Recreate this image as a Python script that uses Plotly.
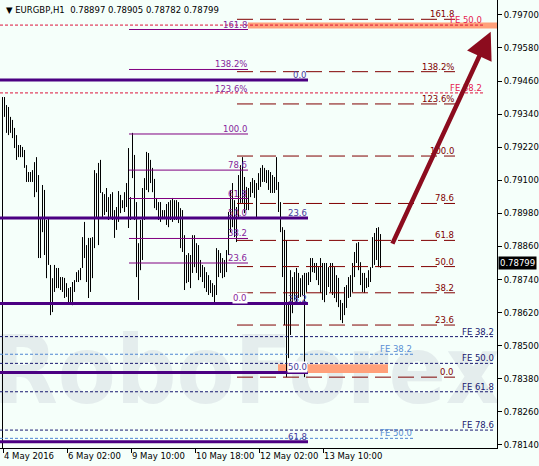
import plotly.graph_objects as go

# ---------------- data ----------------
highs = [0.79402, 0.79373, 0.79366, 0.79330, 0.79319, 0.79290, 0.79264, 0.79228, 0.79228, 0.79221,
         0.79210, 0.79155, 0.79130, 0.79130, 0.79137, 0.79166, 0.79184, 0.79119, 0.78963, 0.79083,
         0.79065, 0.78956, 0.78963, 0.78793, 0.78745, 0.78793, 0.78782, 0.78782, 0.78749, 0.78749,
         0.78746, 0.78727, 0.78709, 0.78713, 0.78731, 0.78738, 0.78767, 0.78774, 0.78782, 0.78894,
         0.78949, 0.78865, 0.78891, 0.78891, 0.78894, 0.79137, 0.79126, 0.79163, 0.79174,
         0.79057, 0.79050, 0.79072, 0.79039, 0.79050, 0.79057, 0.78992, 0.79003, 0.79061, 0.79047,
         0.79028, 0.79057, 0.79090, 0.79217, 0.79039, 0.79272, 0.79192, 0.79021, 0.78872, 0.78956,
         0.79072, 0.79108, 0.79203, 0.79199, 0.79174, 0.79145, 0.79105, 0.79036, 0.79021, 0.79021,
         0.78992, 0.78992, 0.79014, 0.79021, 0.79028, 0.79036, 0.79028, 0.79028, 0.79021, 0.78999,
         0.78992, 0.78901, 0.78829, 0.78836, 0.78829, 0.78901, 0.78901,
         0.78872, 0.78865, 0.78811, 0.78793, 0.78785, 0.78767, 0.78756, 0.78738, 0.78727, 0.78720,
         0.78854, 0.78847, 0.78836, 0.78818, 0.78811, 0.78847, 0.78985, 0.79065, 0.79090, 0.79028,
         0.79003, 0.79119, 0.79155, 0.79184, 0.79112, 0.79076, 0.79072, 0.79094, 0.79108, 0.79101,
         0.79090, 0.79126, 0.79145, 0.79155, 0.79145, 0.79137, 0.79137, 0.79130, 0.79119, 0.79112,
         0.79184, 0.79094, 0.79021, 0.78930, 0.78920, 0.78883, 0.78655, 0.78774,
         0.78749, 0.78767, 0.78782, 0.78764, 0.78745, 0.78756, 0.78764, 0.78764, 0.78767, 0.78818,
         0.78818, 0.78800, 0.78800, 0.78785, 0.78818, 0.78800, 0.78800, 0.78800, 0.78785, 0.78800,
         0.78800, 0.78785, 0.78756, 0.78746, 0.78666, 0.78655, 0.78713, 0.78720, 0.78749, 0.78756,
         0.78800, 0.78840, 0.78872, 0.78876, 0.78803, 0.78764, 0.78764, 0.78746, 0.78774, 0.78785,
         0.78894, 0.78909, 0.78927, 0.78930, 0.78905]
lows = [0.79330, 0.79272, 0.79264, 0.79272, 0.79253, 0.79217, 0.79174, 0.79184, 0.79184, 0.79184,
        0.79145, 0.79094, 0.79094, 0.79094, 0.79094, 0.79039, 0.79057, 0.78818, 0.78818, 0.78912,
        0.78829, 0.78745, 0.78793, 0.78611, 0.78622, 0.78695, 0.78709, 0.78709, 0.78702, 0.78695,
        0.78673, 0.78677, 0.78658, 0.78658, 0.78647, 0.78695, 0.78731, 0.78731, 0.78738, 0.78782,
        0.78818, 0.78731, 0.78673, 0.78695, 0.78745, 0.78854, 0.78963, 0.78865, 0.79054,
        0.78967, 0.78974, 0.78985, 0.78956, 0.78967, 0.78956, 0.78891, 0.78920, 0.78949, 0.78981,
        0.78999, 0.78985, 0.79003, 0.78927, 0.78956, 0.79108, 0.78956, 0.78749, 0.78666, 0.78774,
        0.78811, 0.78956, 0.79065, 0.79057, 0.79090, 0.79057, 0.78999, 0.78992, 0.78956, 0.78949,
        0.78959, 0.78959, 0.78938, 0.78930, 0.78956, 0.78949, 0.78956, 0.78956, 0.78945, 0.78854,
        0.78840, 0.78702, 0.78727, 0.78731, 0.78709, 0.78764, 0.78785,
        0.78764, 0.78738, 0.78749, 0.78731, 0.78709, 0.78695, 0.78684, 0.78691, 0.78677, 0.78655,
        0.78684, 0.78749, 0.78764, 0.78745, 0.78749, 0.78767, 0.78829, 0.78912, 0.78930, 0.78894,
        0.78876, 0.78967, 0.79018, 0.79018, 0.78981, 0.78992, 0.78992, 0.79039, 0.79054, 0.79036,
        0.78967, 0.79065, 0.79076, 0.79094, 0.79094, 0.79090, 0.79065, 0.79054, 0.79054, 0.79054,
        0.79065, 0.78985, 0.78912, 0.78749, 0.78575, 0.78386, 0.78455, 0.78539,
        0.78618, 0.78666, 0.78655, 0.78673, 0.78677, 0.78684, 0.78386, 0.78695, 0.78720, 0.78731,
        0.78767, 0.78764, 0.78738, 0.78720, 0.78691, 0.78666, 0.78658, 0.78684, 0.78713, 0.78695,
        0.78684, 0.78673, 0.78658, 0.78640, 0.78593, 0.78582, 0.78611, 0.78637, 0.78673, 0.78677,
        0.78695, 0.78749, 0.78800, 0.78774, 0.78720, 0.78695, 0.78691, 0.78709, 0.78713, 0.78731,
        0.78782, 0.78793, 0.78811, 0.78785, 0.78782]

last_bar_ohlc = ["0.78897", "0.78905", "0.78782", "0.78799"]
last_close = 0.78799
symbol = "EURGBP,H1"

x_tick_pos = [-0.75, 31.25, 63.25, 95.25, 127.25, 159.25]
x_tick_text = ["4 May 2016", "6 May 02:00", "9 May 10:00", "10 May 18:00", "12 May 02:00", "13 May 10:00"]
y_ticks = [0.79700, 0.79580, 0.79460, 0.79340, 0.79220, 0.79100, 0.78980,
           0.78860, 0.78740, 0.78620, 0.78500, 0.78380, 0.78260, 0.78140]

# Fibonacci retracement (purple, left)
purple_txt = ["0.0", "23.6", "38.2", "50.0", "61.8", "78.6", "100.0", "123.6%", "138.2%", "161.8"]
purple_px = [0.78655, 0.78800, 0.78889, 0.78962, 0.79034, 0.79137, 0.79268, 0.79413, 0.79502, 0.79647]
purple_span = [62.25, 121.75]

# Fibonacci retracement (maroon, right)
maroon_txt = ["0.0", "23.6", "38.2", "50.0", "61.8", "78.6", "100.0", "123.6%", "138.2%", "161.8"]
maroon_px = [0.78386, 0.78575, 0.78692, 0.78787, 0.78882, 0.79016, 0.79188, 0.79377, 0.79494, 0.79684]
maroon_span = [116.25, 225.25]

# Fibonacci retracement (indigo, thick)
indigo_txt = ["0.0", "23.6", "38.2", "50.0", "61.8"]
indigo_px = [0.79464, 0.78963, 0.78653, 0.78403, 0.78152]
indigo_span = [-2.25, 151.75]

# Fibonacci expansions
fe_red_txt = ["FE 50.0", "FE 38.2"]
fe_red_px = [0.79663, 0.79417]
fe_red_end = 239.25
fe_navy_txt = ["FE 38.2", "FE 50.0", "FE 61.8", "FE 78.6"]
fe_navy_px = [0.78533, 0.78436, 0.78333, 0.78194]
fe_navy_end = 245.25
fe_blue_txt = ["FE 38.2", "FE 50.0"]
fe_blue_px = [0.78469, 0.78164]
fe_blue_end = 204.25

# target zones
zone_top_x = [121.75, 246.25]
zone_top_y = [0.79651, 0.79672]
zone_bot_x = [136.75, 191.75]
zone_bot_y = [0.78401, 0.78433]

# forecast arrow (bar index, price)
arrow_from = [193.6, 0.78865]
arrow_to = [243.1, 0.79639]

# vertical marker at chart start
vline_x = -1.0
vline_top = 0.79402

x_range = [-2.25, 246.25]
y_range = [0.78129, 0.79754]

# ---------------- styles ----------------
BG = "#F5FFFA"
FONT = "DejaVu Sans"
FS = 8.5
C_PURPLE = "#800080"
C_PURPLE_T = "#86259a"
C_MAROON = "#800000"
C_INDIGO = "#4B0082"
C_INDIGO_T = "#463a9c"
C_RED = "#DC143C"
C_RED_T = "#e5204f"
C_NAVY = "#191970"
C_BLUE = "#4f86d2"
C_BLUE_T = "#5b8fd4"
C_SALMON = "#FFA07A"
C_ARROW = "#8C0C1E"

fig = go.Figure()

# watermark
fig.add_trace(go.Scatter(
    x=[121.0], y=[0.78378], mode="text", text=["RoboForex"],
    textposition="middle center",
    textfont=dict(family="Liberation Sans Narrow, DejaVu Sans Condensed, Liberation Sans",
                  size=94, color="#E4EDED", weight="bold"),
    hoverinfo="skip", showlegend=False))

# target zones
for zx, zy in [(zone_top_x, zone_top_y), (zone_bot_x, zone_bot_y)]:
    fig.add_trace(go.Scatter(
        x=[zx[0], zx[1], zx[1], zx[0], zx[0]],
        y=[zy[0], zy[0], zy[1], zy[1], zy[0]],
        mode="lines", fill="toself", fillcolor=C_SALMON,
        line=dict(width=0, color=C_SALMON), hoverinfo="skip", showlegend=False))

# bars
bx, by = [], []
for i, (h, l) in enumerate(zip(highs, lows)):
    bx += [i, i, None]
    by += [h, l, None]
fig.add_trace(go.Scatter(x=bx, y=by, mode="lines", line=dict(color="black", width=1),
                         hoverinfo="skip", showlegend=False, connectgaps=False))

shapes = []
annotations = []


def hline(x0, x1, y, color, width, dash="solid"):
    shapes.append(dict(type="line", xref="x", yref="y", x0=x0, x1=x1, y0=y, y1=y,
                       line=dict(color=color, width=width, dash=dash), layer="above"))


def label(x, y, text, color, bg=None):
    a = dict(x=x, y=y, xref="x", yref="y", text=text, showarrow=False,
             xanchor="right", yanchor="bottom", yshift=-1,
             font=dict(family=FONT, size=FS, color=color), borderpad=0)
    if bg:
        a["bgcolor"] = bg
    annotations.append(a)


# vertical marker
shapes.append(dict(type="line", xref="x", yref="y", x0=vline_x, x1=vline_x,
                   y0=vline_top, y1=y_range[0], line=dict(color="black", width=1)))

# purple fib
for t, p in zip(purple_txt, purple_px):
    if t != "123.6%":
        hline(purple_span[0], purple_span[1], p, C_PURPLE, 1)
    label(purple_span[1], p, t, C_PURPLE_T, "white" if t == "0.0" else None)

# maroon fib
for t, p in zip(maroon_txt, maroon_px):
    hline(maroon_span[0], maroon_span[1], p, C_MAROON, 1, "16px,7px")
    label(maroon_span[1], p, t, C_MAROON)

# FE lines
for t, p in zip(fe_red_txt, fe_red_px):
    hline(x_range[0], fe_red_end, p, C_RED, 1, "3px,2px")
    label(fe_red_end, p, t, C_RED_T)
for t, p in zip(fe_navy_txt, fe_navy_px):
    hline(x_range[0], fe_navy_end, p, C_NAVY, 1, "3px,2px")
    label(fe_navy_end, p, t, C_NAVY)
for t, p in zip(fe_blue_txt, fe_blue_px):
    hline(x_range[0], fe_blue_end, p, C_BLUE, 1, "3px,2px")
    label(fe_blue_end, p, t, C_BLUE_T)

# indigo thick fib
for t, p in zip(indigo_txt, indigo_px):
    hline(indigo_span[0], indigo_span[1], p, C_INDIGO, 3)
    label(indigo_span[1], p, t, C_INDIGO_T, "white" if t == "50.0" else None)

# arrow
annotations.append(dict(x=arrow_to[0], y=arrow_to[1], xref="x", yref="y",
                        ax=arrow_from[0], ay=arrow_from[1], axref="x", ayref="y",
                        text="", showarrow=True, arrowhead=2, arrowsize=1.2,
                        arrowwidth=4.5, arrowcolor=C_ARROW))

# title
annotations.append(dict(x=0, y=1, xref="paper", yref="paper", xanchor="left", yanchor="top",
                        xshift=4, yshift=-3, showarrow=False,
                        text="\u25bc " + symbol + "\u00a0\u00a0" + " ".join(last_bar_ohlc),
                        font=dict(family=FONT, size=FS, color="black")))

# current price tag
annotations.append(dict(x=1, y=last_close, xref="paper", yref="y", xanchor="left",
                        yanchor="middle", xshift=1, showarrow=False,
                        text=f"{last_close:.5f}", bgcolor="black", borderpad=1,
                        font=dict(family=FONT, size=FS, color="white")))

fig.update_layout(
    width=539, height=466,
    margin=dict(l=0, r=42, t=0, b=18),
    paper_bgcolor=BG, plot_bgcolor=BG,
    showlegend=False,
    shapes=shapes, annotations=annotations,
    xaxis=dict(range=x_range, showgrid=False, zeroline=False, showline=True,
               linecolor="black", linewidth=1, ticks="outside", ticklen=4,
               tickcolor="black", tickvals=x_tick_pos, ticktext=x_tick_text,
               ticklabelposition="outside right", tickangle=0, automargin=False,
               tickfont=dict(family=FONT, size=FS, color="black")),
    yaxis=dict(range=y_range, side="right", showgrid=False, zeroline=False,
               showline=True, linecolor="black", linewidth=1, ticks="outside",
               ticklen=4, tickcolor="black", tickvals=y_ticks,
               ticktext=[f"{v:.5f}" for v in y_ticks], automargin=False,
               tickfont=dict(family=FONT, size=FS, color="black")),
)

fig.write_html("out.html", config={"displayModeBar": False},
               post_script="document.body.style.margin='0';document.body.style.background='" + BG + "';")
